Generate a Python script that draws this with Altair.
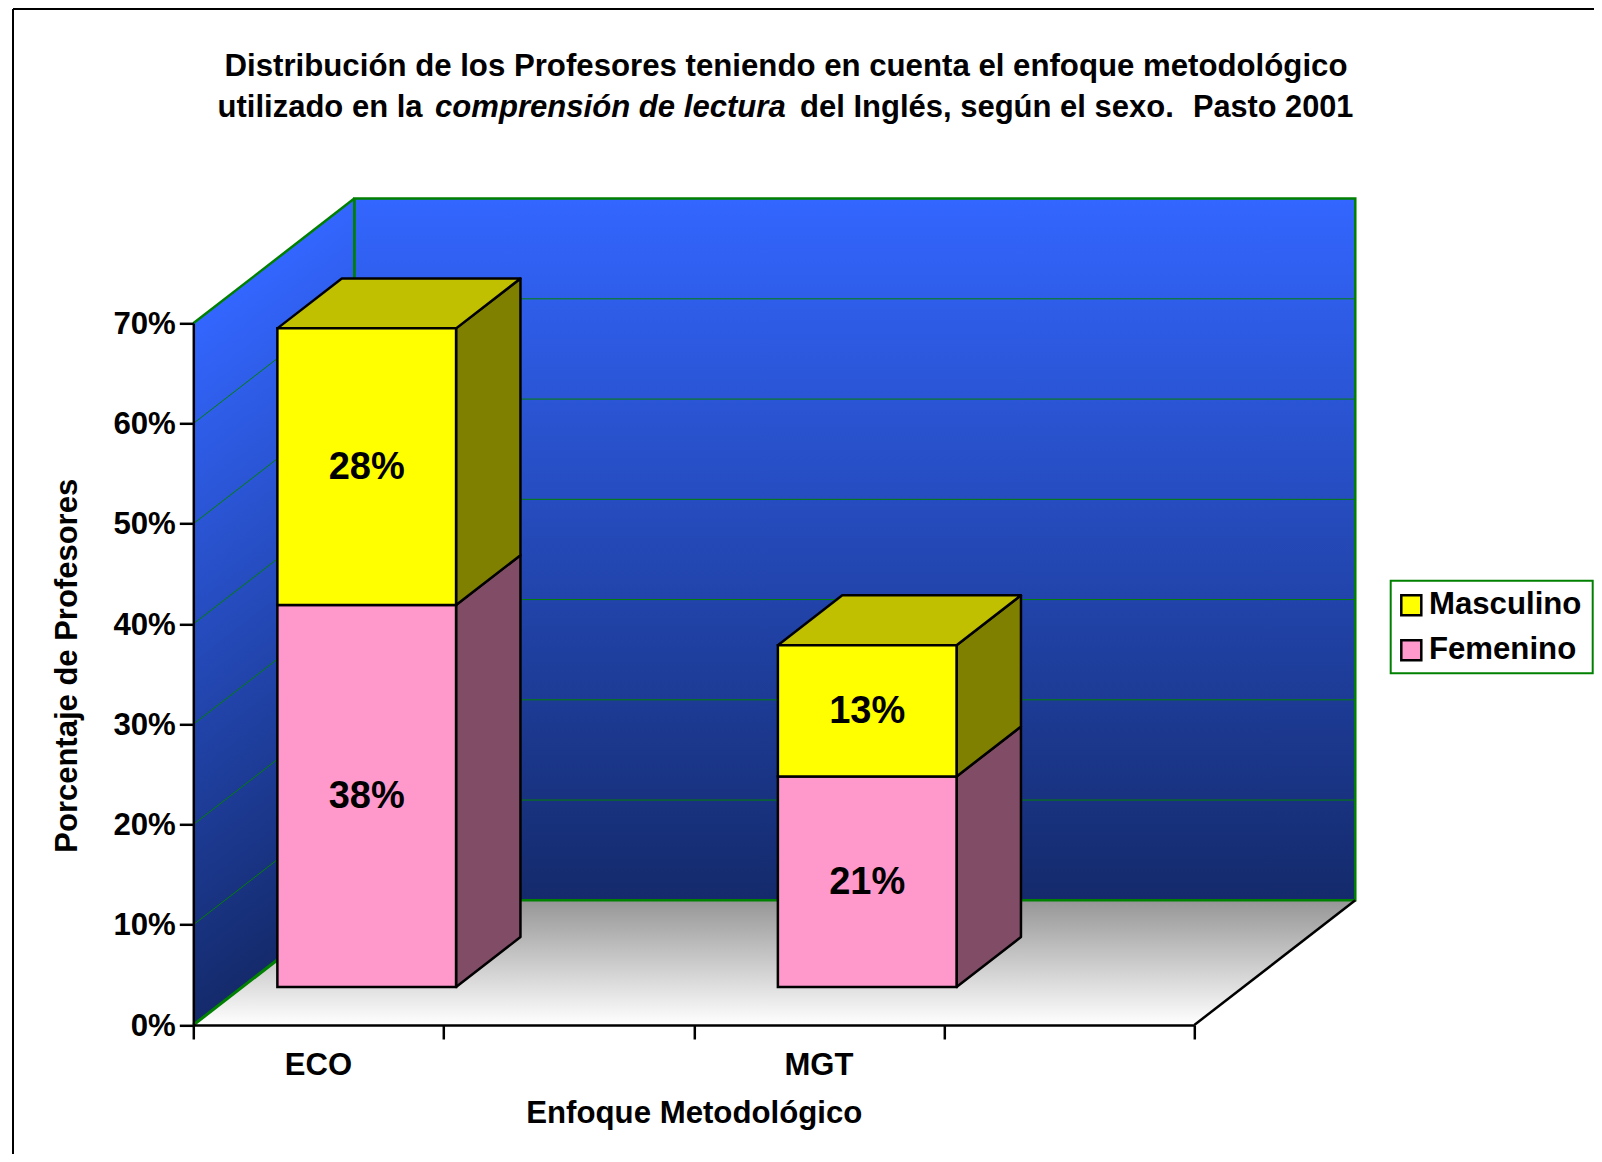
import altair as alt
import pandas as pd

# ---- chart values
categories = ["ECO", "MGT"]
series = ["Masculino", "Femenino"]
femenino = [38.1, 21.0]
masculino = [27.6, 13.1]
label_femenino = ["38%", "21%"]
label_masculino = ["28%", "13%"]
y_ticks = [0, 10, 20, 30, 40, 50, 60, 70]
x_ticks = [0, 1, 2, 3, 4]
category_centres = [0.5, 2.5]

FONT = "Liberation Sans"
GREEN = "#008000"
LINE = 2.5

# ---- projection of the fake 3D box, in axis units
W, H = 1001.0, 701.7
ORG_X, ORG_Y = 193.3, 323.3
DX, DY = 0.6433, 12.44
BAR_W = 0.714
FRONT = 0.30
DEPTH = 0.40
X_MAX, Y_MAX = x_ticks[-1], y_ticks[-1]

xs = alt.Scale(domain=[0, X_MAX], range=[0, W], nice=False, zero=False)
ys = alt.Scale(domain=[0, Y_MAX], range=[H, 0], nice=False, zero=False)

x_axis = alt.Axis(values=x_ticks, labels=False, grid=False, ticks=True, tickSize=14, tickWidth=LINE,
                  tickColor="black", domainColor="black", domainWidth=LINE, zindex=1,
                  title="Enfoque Metodológico",
                  titleFont=FONT, titleFontSize=31.2, titleFontWeight="bold", titleColor="black",
                  titleX=500.5, titleY=97, titleBaseline="alphabetic")
y_axis = alt.Axis(values=y_ticks, grid=False, tickSize=14, tickWidth=LINE, tickColor="black",
                  domainColor="black", domainWidth=LINE, zindex=1, labelPadding=4, labelOffset=1,
                  labelExpr="datum.value + '%'",
                  labelFont=FONT, labelFontSize=31.2, labelFontWeight="bold", labelColor="black",
                  title="Porcentaje de Profesores",
                  titleFont=FONT, titleFontSize=31, titleFontWeight="bold", titleColor="black",
                  titleX=-117, titleY=342, titleAngle=270, titleBaseline="alphabetic")


def X(f="x"):
    return alt.X(f"{f}:Q", scale=xs, axis=x_axis)


def Y(f="y"):
    return alt.Y(f"{f}:Q", scale=ys, axis=y_axis)


X2 = lambda f="x2": alt.X2(f"{f}:Q")
Y2 = lambda f="y2": alt.Y2(f"{f}:Q")

# ---- bar tables
rows = []
for i, c in enumerate(categories):
    left = category_centres[i] - BAR_W / 2 + FRONT * DX
    base = 0.305 * DY
    for s, v, lab, start in (
        ("Femenino", femenino[i], label_femenino[i], 0.0),
        ("Masculino", masculino[i], label_masculino[i], femenino[i]),
    ):
        rows.append(dict(cat=c, serie=s, label=lab, x=left, x2=left + BAR_W,
                         y=base + start, y2=base + start + v,
                         xm=left + BAR_W / 2, ym=base + start + v / 2))
front = pd.DataFrame(rows)

side_rows, top_rows = [], []
for r in rows:
    for t in (0, 1):
        side_rows.append(dict(face=r["cat"] + r["serie"], serie=r["serie"],
                              x=r["x2"] + t * DEPTH * DX,
                              y=r["y"] + t * DEPTH * DY,
                              y2=r["y2"] + t * DEPTH * DY))
    if r["serie"] == "Masculino":
        for t in (0, 1):
            top_rows.append(dict(face=r["cat"], serie=r["serie"],
                                 x=r["x"] + t * DEPTH * DX,
                                 x2=r["x2"] + t * DEPTH * DX,
                                 y=r["y2"] + t * DEPTH * DY))
side = pd.DataFrame(side_rows)
top = pd.DataFrame(top_rows)

# ---- box tables
floor_df = pd.DataFrame({"x": [0, DX], "x2": [X_MAX, X_MAX + DX], "y": [0, DY]})
lwall_df = pd.DataFrame({"x": [0, DX], "y": [0, DY], "y2": [Y_MAX, Y_MAX + DY]})
bwall_df = pd.DataFrame({"x": [DX], "x2": [X_MAX + DX], "y": [DY], "y2": [Y_MAX + DY]})
grid_vals = [t for t in y_ticks if 0 < t < Y_MAX]
back_grid = pd.DataFrame({"x": DX, "x2": X_MAX + DX,
                          "y": [t + DY for t in grid_vals], "y2": [t + DY for t in grid_vals]})
left_grid = pd.DataFrame({"x": 0.0, "x2": DX, "y": grid_vals, "y2": [t + DY for t in grid_vals]})
top_edge = pd.DataFrame({"x": [0.0], "x2": [DX], "y": [Y_MAX], "y2": [Y_MAX + DY]})
low_edge = pd.DataFrame({"x": [0.0], "x2": [DX], "y": [0.0], "y2": [DY]})
corner_edge = pd.DataFrame({"x": [DX], "x2": [DX], "y": [DY], "y2": [Y_MAX + DY]})
right_edge = pd.DataFrame({"x": [float(X_MAX)], "x2": [X_MAX + DX], "y": [0.0], "y2": [DY]})

wall_back_fill = alt.LinearGradient(
    gradient="linear",
    stops=[alt.GradientStop(color="#3366FF", offset=0), alt.GradientStop(color="#142A6B", offset=1)],
    x1=0, x2=0, y1=0, y2=1)
wall_left_fill = alt.LinearGradient(
    gradient="linear",
    stops=[alt.GradientStop(color="#3366FF", offset=0), alt.GradientStop(color="#142A6B", offset=1)],
    x1=0, y1=0.1501, x2=0.1254, y2=0.981)
floor_fill = alt.LinearGradient(
    gradient="linear",
    stops=[alt.GradientStop(color="#969696", offset=0), alt.GradientStop(color="#FFFFFF", offset=1)],
    x1=0, x2=0, y1=0, y2=1)

floor = alt.Chart(floor_df).mark_area(orient="horizontal", fill=floor_fill).encode(x=X(), x2=X2(), y=Y())
lwall = alt.Chart(lwall_df).mark_area(orient="vertical", fill=wall_left_fill).encode(x=X(), y=Y(), y2=Y2())
bwall = alt.Chart(bwall_df).mark_rect(fill=wall_back_fill, stroke=GREEN, strokeWidth=LINE).encode(
    x=X(), x2=X2(), y=Y(), y2=Y2())


def rule(df, color=GREEN, w=1.0):
    return alt.Chart(df).mark_rule(color=color, strokeWidth=w).encode(x=X(), x2=X2(), y=Y(), y2=Y2())


side_layer = alt.Chart(side).mark_area(orient="vertical", stroke="black", strokeWidth=LINE, strokeJoin="round").encode(
    x=X(), y=Y(), y2=Y2(), detail="face:N",
    color=alt.Color("serie:N", scale=alt.Scale(domain=series, range=["#808000", "#804C66"]), legend=None))
top_layer = alt.Chart(top).mark_area(orient="horizontal", stroke="black", strokeWidth=LINE, strokeJoin="round").encode(
    x=X(), x2=X2(), y=Y(), detail="face:N",
    color=alt.Color("serie:N", scale=alt.Scale(domain=series, range=["#C0C000", "#C0C000"]), legend=None))
front_layer = alt.Chart(front).mark_rect(stroke="black", strokeWidth=LINE).encode(
    x=X(), x2=X2(), y=Y(), y2=Y2(),
    color=alt.Color("serie:N", scale=alt.Scale(domain=series, range=["#FFFF00", "#FF99CC"]),
                    legend=alt.Legend(
                        orient="none", legendX=1197.4, legendY=261.4, title=None, padding=5,
                        symbolType="square", symbolSize=400, symbolStrokeColor="black",
                        symbolStrokeWidth=LINE, symbolOpacity=1,
                        labelFont=FONT, labelFontSize=31.2, labelFontWeight="bold", labelColor="black",
                        labelLimit=400, labelOffset=2, rowPadding=13)))
bar_labels = alt.Chart(front).mark_text(font=FONT, fontSize=38, fontWeight="bold", color="black",
                                        baseline="middle", align="center", dy=1).encode(
    x=X("xm"), y=Y("ym"), text="label:N")
cat_labels = alt.Chart(pd.DataFrame({"x": category_centres, "y": [0, 0], "t": categories})).mark_text(
    font=FONT, fontSize=31, fontWeight="bold", color="black", baseline="alphabetic", align="center", dy=49.7
).encode(x=X(), y=Y(), text="t:N")


# ---- title pieces and page frame
def caption(text, px, py, size, italic=False, anchor="left"):
    kw = {"fontStyle": "italic"} if italic else {}
    return alt.Chart(alt.Data(values=[{"k": 1}])).mark_text(
        font=FONT, fontSize=size, fontWeight="bold", color="black", align=anchor, baseline="alphabetic", **kw
    ).encode(x=alt.value(px - ORG_X), y=alt.value(py - ORG_Y), text=alt.value(text))


captions = [
    caption("Distribución de los Profesores teniendo en cuenta el enfoque metodológico", 786, 75.7, 31.2, anchor="center"),
    caption("utilizado en la", 217.6, 116.7, 31),
    caption("comprensión de lectura", 435, 116.7, 31.1, italic=True),
    caption("del Inglés, según el sexo.", 800, 116.7, 31),
    caption("Pasto 2001", 1193, 116.7, 30.7),
]

one = alt.Data(values=[{"k": 1}])
frame_one = alt.Chart(one).mark_rule(color="black", strokeWidth=2).encode(
    x=alt.value(13 - ORG_X), x2=alt.value(1602 - ORG_X), y=alt.value(9 - ORG_Y))
frame_two = alt.Chart(one).mark_rule(color="black", strokeWidth=2).encode(
    x=alt.value(13 - ORG_X), y=alt.value(9 - ORG_Y), y2=alt.value(1162 - ORG_Y))
legend_box = alt.Chart(one).mark_rect(fill="white", stroke=GREEN, strokeWidth=2).encode(
    x=alt.value(1390.7 - ORG_X), x2=alt.value(1592.7 - ORG_X),
    y=alt.value(580.7 - ORG_Y), y2=alt.value(673.3 - ORG_Y))

chart = alt.layer(
    frame_one, frame_two, legend_box, floor, bwall, lwall,
    rule(back_grid), rule(left_grid), rule(top_edge, w=LINE), rule(corner_edge, w=LINE), rule(low_edge, w=3),
    rule(right_edge, color="black", w=LINE),
    side_layer, top_layer, front_layer, bar_labels, cat_labels, *captions
).resolve_scale(color="independent").properties(
    width=W, height=H,
    autosize=alt.AutoSizeParams(type="none"),
    padding={"left": ORG_X - 8, "top": ORG_Y - 8, "right": 1594 - ORG_X + 8 - W - 8, "bottom": 1154 - ORG_Y + 8 - H - 8},
).configure_view(stroke=None).configure(background="white")

chart.save("out.html", embed_options={"renderer": "svg", "actions": False})
